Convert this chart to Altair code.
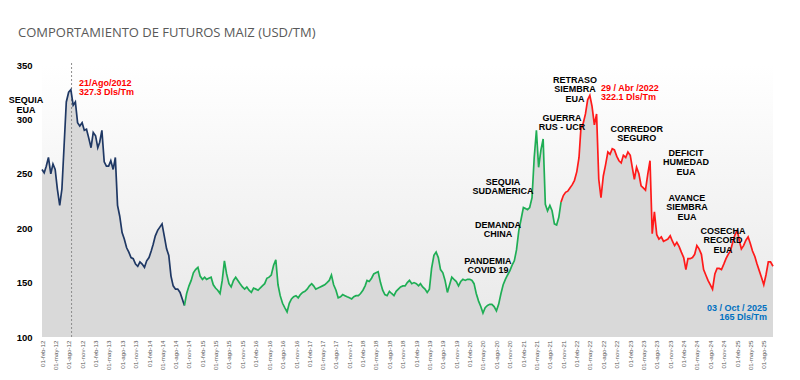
import calendar
import altair as alt
import pandas as pd

# ---------------- data (USD/TM, semi-monthly readings: day 1 and 16) ----------------
y2012 = [254, 251, 257, 265, 250, 259, 254, 236, 221, 236, 276, 316, 325, 327.3, 313, 316, 297, 294, 297, 290, 291, 283]
y2013 = [274, 288, 285, 274, 279, 290, 261, 257, 257, 262, 254, 265, 221, 211, 196, 190, 182, 178, 173, 172, 167, 165, 169, 167]
y2014 = [164, 170, 173, 179, 185, 193, 198, 201, 204, 193, 181, 175, 156, 147, 144, 144, 141, 135, 129, 140, 147, 152, 159, 162]
y2015 = [164, 156, 153, 155, 153, 154, 155, 148, 145, 143, 140, 152, 170, 158, 149, 146, 152, 155, 152, 149, 146, 144, 146, 143]
y2016 = [141, 145, 144, 143, 145, 147, 149, 154, 155, 157, 166, 171, 148, 138, 131, 127, 123, 131, 135, 137, 138, 136, 139, 141]
y2017 = [142, 144, 147, 149, 147, 144, 145, 146, 147, 148, 150, 152, 157, 148, 143, 136, 137, 139, 138, 137, 136, 135, 137, 138]
y2018 = [138, 140, 143, 147, 152, 151, 154, 158, 159, 160, 150, 143, 139, 138, 142, 140, 138, 142, 144, 146, 147, 147, 150, 152]
y2019 = [149, 150, 149, 147, 149, 146, 144, 141, 144, 163, 175, 178, 173, 162, 159, 152, 141, 148, 155, 153, 151, 147, 151, 153]
y2020 = [152, 153, 153, 152, 149, 140, 133, 128, 122, 127, 129, 130, 130, 128, 124, 130, 140, 148, 153, 157, 161, 166, 170, 180]
y2021 = [198, 208, 219, 218, 217, 219, 228, 265, 290, 256, 272, 282, 222, 216, 221, 216, 204, 203, 210, 224, 230, 233, 234, 237]
y2022 = [240, 244, 252, 265, 292, 296, 305, 318, 322.1, 312, 295, 305, 245, 228, 248, 258, 270, 268, 273, 272, 266, 262, 260, 267]
y2023 = [265, 270, 267, 255, 245, 256, 250, 239, 237, 235, 250, 262, 195, 215, 194, 190, 192, 188, 189, 190, 193, 188, 184, 187]
y2024 = [183, 178, 173, 162, 172, 172, 173, 176, 184, 181, 176, 162, 157, 152, 148, 144, 158, 163, 163, 162, 167, 172, 176, 179]
y2025 = [187, 194, 198, 188, 181, 184, 189, 192, 186, 179, 174, 167, 161, 155, 148, 157, 169, 169, 165]

series_years = [
    (2012, 2, y2012), (2013, 1, y2013), (2014, 1, y2014), (2015, 1, y2015),
    (2016, 1, y2016), (2017, 1, y2017), (2018, 1, y2018), (2019, 1, y2019),
    (2020, 1, y2020), (2021, 1, y2021), (2022, 1, y2022), (2023, 1, y2023),
    (2024, 1, y2024), (2025, 1, y2025),
]
last_date = "2025-10-03"

seg_names = ["2012-2014", "2014-2021", "2021-2025"]
seg_colors = ["#1f3864", "#1fae55", "#ff1a1a"]
seg_breaks = ["2014-10-01", "2021-10-16"]

meses = ["ene", "feb", "mar", "abr", "may", "jun", "jul", "ago", "sep", "oct", "nov", "dic"]
tick_months = [2, 5, 8, 11]
y_ticks = [100, 150, 200, 250, 300, 350]

title_text = "COMPORTAMIENTO DE FUTUROS MAIZ (USD/TM)"

# annotations: (date, value, text)
notes_black = [
    ("2011-10-15", 317.4, "SEQUIA\nEUA"),
    ("2022-01-19", 336.2, "RETRASO\nSIEMBRA\nEUA"),
    ("2021-10-23", 301.7, "GUERRA\nRUS - UCR"),
    ("2023-03-18", 291.6, "CORREDOR\nSEGURO"),
    ("2020-09-15", 242.9, "SEQUIA\nSUDAMERICA"),
    ("2020-08-11", 203.4, "DEMANDA\nCHINA"),
    ("2020-06-04", 170.3, "PANDEMIA\nCOVID 19"),
    ("2024-02-17", 269.1, "DEFICIT\nHUMEDAD\nEUA"),
    ("2024-02-23", 227.8, "AVANCE\nSIEMBRA\nEUA"),
    ("2024-10-26", 197.4, "COSECHA\nRECORD\nEUA"),
]
notes_red = [
    ("2012-10-11", 333.9, "21/Ago/2012\n327.3 Dls/Tm"),
    ("2022-07-16", 329.3, "29 / Abr /2022\n322.1 Dls/Tm"),
]
notes_blue = [
    ("2025-08-23", 126.7, "03 / Oct / 2025\n165 Dls/Tm"),
]
peak_rule = [("2012-08-21", 100, 353.5)]

# ---------------- build tables ----------------
def ms(y, m, d):
    return calendar.timegm((y, m, d, 0, 0, 0)) * 1000

rows = []
for year, start_month, vals in series_years:
    for i, v in enumerate(vals):
        month = start_month + i // 2
        day = 1 if i % 2 == 0 else 16
        rows.append([f"{year}-{month:02d}-{day:02d}", v])
rows[-1][0] = last_date
df = pd.DataFrame(rows, columns=["date", "value"])

line_rows = []
for d, v in rows:
    if d <= seg_breaks[0]:
        line_rows.append((d, v, seg_names[0]))
    if seg_breaks[0] <= d <= seg_breaks[1]:
        line_rows.append((d, v, seg_names[1]))
    if d >= seg_breaks[1]:
        line_rows.append((d, v, seg_names[2]))
line_df = pd.DataFrame(line_rows, columns=["date", "value", "seg"])

tick_vals, tick_labels = [], []
for y in range(2012, 2026):
    for m in tick_months:
        if y == 2025 and m > 8:
            continue
        tick_vals.append(ms(y, m, 1))
        tick_labels.append(f"01-{meses[m - 1]}-{y % 100:02d}")

label_expr = "[" + ",".join(f"'{l}'" for l in tick_labels) + "][indexof([" + \
    ",".join(str(t) for t in tick_vals) + "], time(datum.value))]"

W, H = 731, 272
FONT = "Liberation Sans"

x_scale = alt.Scale(type="utc", domain=[ms(2012, 2, 1), ms(2025, 10, 3)])
y_scale = alt.Scale(domain=[100, 350], nice=False, zero=False)

x_axis = alt.Axis(values=tick_vals, labelExpr=label_expr, labelAngle=-90, labelFont=FONT,
                  labelFontSize=6.2, labelColor="#595959", ticks=False, domain=False, grid=False,
                  labelPadding=3, labelOverlap=False, labelFlush=False, labelBound=False,
                  title=None)
y_axis = alt.Axis(values=y_ticks, labelFont=FONT, labelFontSize=9.5,
                  labelFontWeight="bold", labelColor="#000000", ticks=False, domain=False,
                  grid=False, labelPadding=10, title=None)


def X():
    return alt.X("date:T", scale=x_scale, axis=x_axis)


def Y(field="value"):
    return alt.Y(f"{field}:Q", scale=y_scale, axis=y_axis)


bg = alt.Chart(pd.DataFrame({"k": [0]})).mark_rect(
    color=alt.Gradient(gradient="linear", x1=0, x2=0, y1=0, y2=1,
                       stops=[alt.GradientStop(color="#ffffff", offset=0),
                              alt.GradientStop(color="#e8e8e8", offset=1)])
).encode(x=alt.value(0), x2=alt.value(W), y=alt.value(0), y2=alt.value(H))

area = alt.Chart(df).mark_area(color="#d9d9d9", opacity=1).encode(
    x=X(), y=Y(), y2=alt.datum(100),
)

rule = alt.Chart(pd.DataFrame(peak_rule, columns=["date", "lo", "hi"])).mark_rule(
    color="#8c8c8c", strokeDash=[2, 2], strokeWidth=1
).encode(x=X(), y=Y("lo"), y2="hi:Q")

lines = alt.Chart(line_df).mark_line(strokeWidth=1.7).encode(
    x=X(), y=Y(),
    color=alt.Color("seg:N", scale=alt.Scale(domain=seg_names, range=seg_colors), legend=None),
    detail="seg:N",
)


def notes(data, color, align):
    return alt.Chart(pd.DataFrame(data, columns=["date", "value", "text"])).mark_text(
        font=FONT, fontSize=9, fontWeight="bold", color=color, align=align,
        baseline="middle", lineBreak="\n", lineHeight=9.3
    ).encode(x=X(), y=Y(), text="text:N")


title = alt.Chart(pd.DataFrame({"t": [title_text]})).mark_text(
    font="Open Sans", fontSize=13, color="#595959", align="left", baseline="alphabetic"
).encode(x=alt.value(-24), y=alt.value(-28), text="t:N")

chart = alt.layer(
    bg, area, rule, lines,
    notes(notes_black, "#000000", "center"),
    notes(notes_red, "#ff0000", "left"),
    notes(notes_blue, "#0070c0", "right"),
    title,
).properties(
    width=W, height=H,
    padding={"left": 34, "top": 57, "right": 19, "bottom": 35},
    autosize=alt.AutoSizeParams(type="none"),
    background="#ffffff",
).configure_view(stroke=None)

chart.save("out.html", embed_options={"renderer": "svg", "actions": False})
